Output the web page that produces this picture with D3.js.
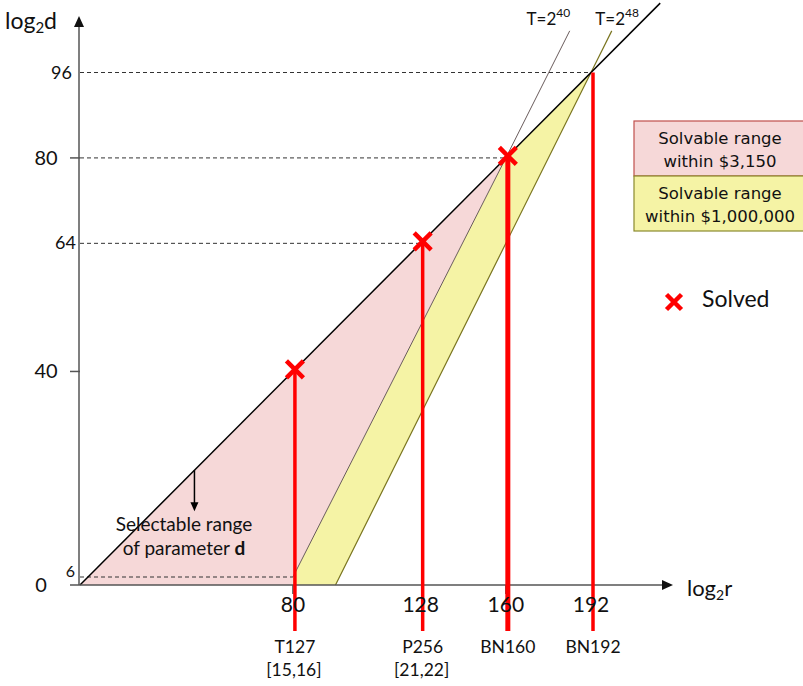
<!DOCTYPE html>
<html>
<head>
<meta charset="utf-8">
<script src="https://cdn.jsdelivr.net/npm/d3@7"></script>
<style>
  body { margin: 0; background: #fff; }
  text { font-family: Lato, "Open Sans", sans-serif; fill: #111; }
</style>
</head>
<body>
<div id="chart"></div>
<script>
// values
const targetR = [80, 128, 160, 192];
const targetTopD = [40, 64, 80, 96];
const targetNames = ["T127", "P256", "BN160", "BN192"];
const targetSubs = ["[15,16]", "[21,22]", "", ""];
const solvedR = [80, 128, 160];
const solvedD = [40, 64, 80];
const guideD = [96, 80, 64, 6];
const guideR = [192, 160, 128, 80];
const yTicksFar = [0, 40, 80];
const yTicksNear = [6, 64, 96];
const xTickLabels = [80, 128, 160, 192];
const diagonal = [[0, 0], [218, 109]];
const line40 = [[80, 6], [160, 80], [184, 103.8]];
const line48 = [[96, 0], [192, 96], [199.8, 103.8]];
const pinkArea = [[0, 0], [160, 80], [80, 6], [80, 0]];
const yellowArea = [[80, 0], [80, 6], [160, 80], [192, 96], [96, 0]];
const legendLabels = [["Solvable range", "within $3,150"], ["Solvable range", "within $1,000,000"]];

const fullWidth = 803;
const fullHeight = 686;
const baseY = 585;
const unitY = (585 - 72.5) / 96;

const svg = d3
  .select("#chart")
  .append("svg")
  .attr("width", fullWidth)
  .attr("height", fullHeight);

const x = d3.scaleLinear().domain([0, 192]).range([80, 591]);
// bottom of the axis is squeezed in the original drawing (6 sits just above 0)
const y = d3
  .scaleLinear()
  .domain([0, 6, 12, 96])
  .range([baseY, baseY - 8, baseY - 12 * unitY, baseY - 96 * unitY]);

const line = d3.line().x(d => x(d[0])).y(d => y(d[1]));

const pink = "#f6d8d8";
const yellow = "#f5f3a5";

svg.append("path").attr("d", line(pinkArea) + "Z").attr("fill", pink);
svg.append("path").attr("d", line(yellowArea) + "Z").attr("fill", yellow);

// dashed guides
svg
  .selectAll(".guide")
  .data(guideD)
  .join("line")
  .attr("x1", x(0))
  .attr("x2", (d, i) => x(guideR[i]))
  .attr("y1", d => y(d))
  .attr("y2", d => y(d))
  .attr("stroke", "#333")
  .attr("stroke-width", 1)
  .attr("stroke-dasharray", "4,3");

svg.append("path").attr("d", line(line40)).attr("fill", "none").attr("stroke", "#6a5c5c").attr("stroke-width", 1);
svg.append("path").attr("d", line(line48)).attr("fill", "none").attr("stroke", "#7a7520").attr("stroke-width", 1.2);
svg.append("path").attr("d", line(diagonal)).attr("fill", "none").attr("stroke", "#000").attr("stroke-width", 1.5);

// axes
const axisColor = "#555";
svg.append("line").attr("x1", 70).attr("x2", 664).attr("y1", y(0)).attr("y2", y(0)).attr("stroke", axisColor).attr("stroke-width", 1.5);
svg.append("path").attr("d", `M673,${y(0)} L662,${y(0) - 5} L662,${y(0) + 5} Z`).attr("fill", "#111");
svg.append("line").attr("x1", x(0) - 1).attr("x2", x(0) - 1).attr("y1", y(0)).attr("y2", 26).attr("stroke", axisColor).attr("stroke-width", 1.5);
svg.append("path").attr("d", `M${x(0) - 1},16 L${x(0) - 6},27 L${x(0) + 4},27 Z`).attr("fill", "#111");

svg.selectAll(".ytick").data([40, 80]).join("line")
  .attr("x1", 70).attr("x2", x(0)).attr("y1", d => y(d)).attr("y2", d => y(d))
  .attr("stroke", axisColor).attr("stroke-width", 1.5);
svg.selectAll(".xtick").data([80, 160]).join("line")
  .attr("x1", d => x(d)).attr("x2", d => x(d)).attr("y1", y(0)).attr("y2", y(0) + 9)
  .attr("stroke", axisColor).attr("stroke-width", 1.5);

// red target lines
svg.selectAll(".target").data(targetR).join("line")
  .attr("x1", d => x(d) + 2).attr("x2", d => x(d) + 2)
  .attr("y1", (d, i) => y(targetTopD[i])).attr("y2", 631)
  .attr("stroke", "#ff0000")
  .attr("stroke-width", d => (d === 160 ? 5 : 3.5));

const cross = (g, cx, cy, s) => {
  g.append("path")
    .attr("d", `M${cx - s},${cy - s}L${cx + s},${cy + s}M${cx - s},${cy + s}L${cx + s},${cy - s}`)
    .attr("stroke", "#ff0000").attr("stroke-width", 4.5).attr("fill", "none");
};
solvedR.forEach((r, i) => cross(svg, x(r) + 2, y(solvedD[i]) - 2, 8.5));

// y labels
svg.selectAll(".ylab").data(yTicksFar).join("text")
  .attr("x", d => (d === 0 ? 41 : 46)).attr("y", d => y(d) + 7)
  .attr("text-anchor", "middle").style("font-size", "20px").text(d => d);
svg.selectAll(".ylabn").data(yTicksNear).join("text")
  .attr("x", d => (d === 6 ? 75 : d === 64 ? 76 : 72)).attr("y", d => y(d) + (d === 6 ? 0 : 6))
  .attr("text-anchor", "end").style("font-size", d => (d === 6 ? "16px" : "18px")).text(d => d);

// x labels
svg.selectAll(".xlab").data(xTickLabels).join("text")
  .attr("x", d => x(d)).attr("y", 612)
  .attr("text-anchor", "middle").style("font-size", "21px").text(d => d);
svg.selectAll(".tname").data(targetNames).join("text")
  .attr("x", (d, i) => x(targetR[i]) + 2).attr("y", 653)
  .attr("text-anchor", "middle").style("font-size", "17.5px").text(d => d);
svg.selectAll(".tsub").data(targetSubs).join("text")
  .attr("x", (d, i) => x(targetR[i]) + 1).attr("y", 676)
  .attr("text-anchor", "middle").style("font-size", "17.5px").text(d => d);

// axis titles
const logD = svg.append("text").attr("x", 5).attr("y", 29).style("font-size", "23px");
logD.append("tspan").text("log");
logD.append("tspan").attr("dy", 4).style("font-size", "15px").text("2");
logD.append("tspan").attr("dy", -4).text("d");
const logR = svg.append("text").attr("x", 687).attr("y", 596).style("font-size", "22px");
logR.append("tspan").text("log");
logR.append("tspan").attr("dy", 4).style("font-size", "14px").text("2");
logR.append("tspan").attr("dy", -4).text("r");

// T labels
const tLabel = (r, label) => {
  const t = svg.append("text").attr("x", x(r)).attr("y", 25).attr("text-anchor", "middle").style("font-size", "17px");
  t.append("tspan").text("T=2");
  t.append("tspan").attr("dy", -8).style("font-size", "12px").text(label);
};
tLabel(line40[2][0] - 8, "40");
tLabel(line48[2][0] + 2, "48");

// selectable range annotation
const arrowR = 43;
svg.append("line").attr("x1", x(arrowR)).attr("x2", x(arrowR))
  .attr("y1", y(arrowR / 2)).attr("y2", y(14) - 6).attr("stroke", "#000").attr("stroke-width", 1.5);
svg.append("path").attr("d", `M${x(arrowR)},${y(14) + 1} L${x(arrowR) - 4},${y(14) - 8} L${x(arrowR) + 4},${y(14) - 8} Z`).attr("fill", "#000");
svg.append("text").attr("x", 184).attr("y", 531).attr("text-anchor", "middle").style("font-size", "19px").text("Selectable range");
const par = svg.append("text").attr("x", 184).attr("y", 555).attr("text-anchor", "middle").style("font-size", "19px");
par.append("tspan").text("of parameter ");
par.append("tspan").style("font-weight", "bold").text("d");

// legend boxes
const boxes = [
  { fill: pink, stroke: "#c0504d", top: 121 },
  { fill: yellow, stroke: "#8a8a2e", top: 176 }
];
boxes.forEach((b, i) => {
  svg.append("rect").attr("x", 634).attr("y", b.top).attr("width", 180).attr("height", 55)
    .attr("fill", b.fill).attr("stroke", b.stroke).attr("stroke-width", 1.2);
  legendLabels[i].forEach((txt, j) => {
    svg.append("text").attr("x", 720).attr("y", b.top + 23 + j * 23)
      .attr("text-anchor", "middle")
      .style("font-family", "'DejaVu Sans', sans-serif")
      .style("font-size", "16.5px").text(txt);
  });
});

cross(svg, 674, 302, 7.5);
svg.append("text").attr("x", 702).attr("y", 307).style("font-size", "23px").text("Solved");
</script>
</body>
</html>
